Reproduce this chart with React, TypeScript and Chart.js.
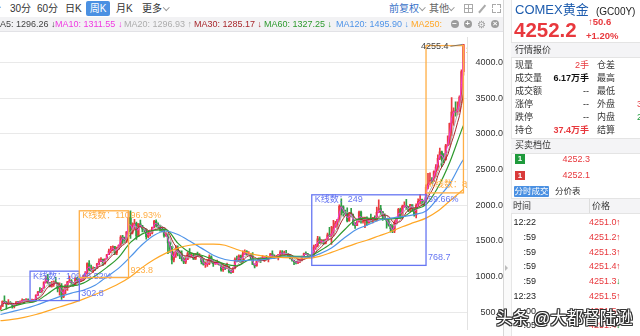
import React, { useEffect, useRef } from "react";
import { Chart, registerables } from "chart.js";
Chart.register(...registerables);

// ---------- DATA (monthly candles, Mar 2006 .. Oct 2025) ----------
const firstOpen = 556;
const closes = [
  584, 654, 643, 614, 634, 624, 599, 604, 648, 635,
  652, 666, 663, 679, 657, 650, 665, 673, 743, 789, 783, 834,
  923, 972, 916, 864, 887, 928, 912, 833, 871, 716, 815, 884,
  928, 942, 916, 883, 979, 927, 955, 955, 1008, 1040, 1182, 1097,
  1081, 1118, 1115, 1180, 1213, 1245, 1181, 1248, 1308, 1359, 1386, 1421,
  1333, 1411, 1439, 1556, 1536, 1502, 1628, 1829, 1620, 1725, 1746, 1566,
  1740, 1711, 1669, 1664, 1561, 1604, 1614, 1692, 1776, 1720, 1713, 1675,
  1663, 1578, 1595, 1472, 1393, 1234, 1312, 1395, 1327, 1323, 1250, 1202,
  1240, 1322, 1284, 1296, 1246, 1322, 1282, 1287, 1210, 1171, 1175, 1184,
  1278, 1213, 1183, 1183, 1190, 1172, 1095, 1132, 1115, 1142, 1065, 1061,
  1118, 1238, 1235, 1293, 1213, 1320, 1350, 1311, 1317, 1277, 1173, 1152,
  1211, 1253, 1249, 1268, 1269, 1242, 1269, 1321, 1281, 1271, 1275, 1309,
  1345, 1318, 1327, 1316, 1305, 1253, 1233, 1206, 1196, 1215, 1226, 1283,
  1325, 1316, 1298, 1285, 1306, 1413, 1437, 1529, 1472, 1514, 1465, 1523,
  1587, 1567, 1596, 1694, 1751, 1801, 1986, 1978, 1895, 1879, 1780, 1895,
  1850, 1729, 1716, 1768, 1906, 1771, 1817, 1818, 1757, 1784, 1776, 1829,
  1796, 1900, 1954, 1912, 1849, 1807, 1782, 1726, 1672, 1640, 1759, 1826,
  1945, 1836, 1986, 1999, 1982, 1929, 2009, 1966, 1866, 2000, 2057, 2072,
  2067, 2054, 2254, 2302, 2346, 2339, 2473, 2536, 2659, 2749, 2657, 2641,
  2835, 2848, 3150, 3305, 3313, 3307, 3348, 3516, 3873, 4252,
];
const highs = [
  588, 660, 732, 650, 678, 650, 628, 610, 652, 652,
  662, 690, 671, 694, 690, 665, 684, 676, 745, 794, 848, 838,
  929, 1006, 1034, 917, 935, 941, 990, 915, 912, 904, 829, 886,
  935, 1007, 960, 918, 982, 990, 958, 967, 1021, 1070, 1195, 1227,
  1162, 1139, 1126, 1185, 1249, 1266, 1211, 1250, 1310, 1388, 1424, 1432,
  1424, 1414, 1447, 1577, 1578, 1556, 1631, 1912, 1921, 1753, 1804, 1764,
  1745, 1792, 1718, 1676, 1669, 1641, 1631, 1695, 1791, 1798, 1755, 1723,
  1696, 1681, 1616, 1596, 1487, 1424, 1347, 1434, 1433, 1361, 1361, 1267,
  1280, 1345, 1392, 1331, 1315, 1325, 1345, 1323, 1287, 1256, 1208, 1239,
  1307, 1292, 1224, 1224, 1232, 1205, 1175, 1169, 1157, 1191, 1141, 1088,
  1128, 1264, 1287, 1306, 1304, 1362, 1377, 1365, 1352, 1319, 1339, 1180,
  1221, 1264, 1261, 1297, 1276, 1297, 1273, 1326, 1362, 1306, 1299, 1311,
  1366, 1365, 1357, 1369, 1326, 1309, 1266, 1222, 1214, 1247, 1238, 1288,
  1331, 1349, 1326, 1310, 1311, 1443, 1453, 1566, 1557, 1519, 1516, 1526,
  1611, 1691, 1704, 1788, 1775, 1802, 2005, 2089, 1993, 1933, 1966, 1900,
  1959, 1877, 1757, 1798, 1919, 1919, 1836, 1834, 1837, 1814, 1877, 1831,
  1853, 1976, 2078, 1998, 1909, 1879, 1790, 1808, 1735, 1729, 1786, 1836,
  1959, 1960, 2003, 2049, 2085, 1983, 2012, 1988, 1953, 2019, 2089, 2152,
  2088, 2066, 2286, 2448, 2454, 2388, 2483, 2570, 2708, 2801, 2761, 2726,
  2853, 2975, 3153, 3509, 3365, 3451, 3451, 3534, 3897, 4255.4,
];
const lows = [
  536, 582, 635, 543, 608, 610, 560, 563, 603, 608,
  606, 646, 636, 660, 652, 641, 647, 651, 671, 732, 775, 782,
  845, 907, 905, 856, 851, 863, 900, 786, 742, 681, 706, 760,
  807, 918, 880, 866, 885, 908, 906, 931, 947, 992, 1038, 1079,
  1073, 1058, 1088, 1114, 1164, 1209, 1157, 1176, 1246, 1315, 1331, 1359,
  1309, 1308, 1383, 1422, 1462, 1478, 1480, 1604, 1535, 1600, 1667, 1523,
  1563, 1692, 1628, 1627, 1527, 1547, 1572, 1598, 1684, 1697, 1678, 1637,
  1626, 1555, 1564, 1321, 1339, 1180, 1207, 1270, 1291, 1251, 1221, 1181,
  1182, 1238, 1277, 1268, 1240, 1240, 1279, 1274, 1180, 1160, 1130, 1142,
  1167, 1191, 1142, 1170, 1171, 1162, 1077, 1072, 1098, 1136, 1052, 1045,
  1060, 1110, 1208, 1209, 1200, 1210, 1311, 1301, 1304, 1241, 1172, 1124,
  1146, 1208, 1196, 1244, 1215, 1236, 1205, 1260, 1274, 1260, 1263, 1236,
  1307, 1306, 1303, 1312, 1286, 1250, 1218, 1167, 1180, 1182, 1196, 1221,
  1276, 1311, 1280, 1268, 1272, 1281, 1383, 1418, 1465, 1458, 1450, 1459,
  1518, 1563, 1451, 1568, 1693, 1674, 1772, 1863, 1849, 1860, 1767, 1776,
  1838, 1717, 1677, 1721, 1768, 1750, 1750, 1688, 1721, 1746, 1762, 1753,
  1781, 1781, 1895, 1872, 1787, 1803, 1681, 1709, 1622, 1618, 1616, 1770,
  1824, 1811, 1810, 1969, 1941, 1911, 1903, 1913, 1847, 1823, 1984, 2017,
  2002, 1996, 2044, 2228, 2286, 2304, 2334, 2401, 2488, 2641, 2541, 2596,
  2633, 2833, 2855, 2970, 3120, 3249, 3268, 3314, 3436, 3825,
];

// Long moving averages (one reading every 6 candles + last)
const maIndex = [
  0, 6, 12, 18, 24, 30, 36, 42, 48, 54, 60, 66, 72, 78, 84, 90, 96, 102, 108, 114,
  120, 126, 132, 138, 144, 150, 156, 162, 168, 174, 180, 186, 192, 198, 204, 210,
  216, 222, 228, 234, 235,
];
const ma60 = [
  520, 580, 625, 655, 760, 860, 870, 910, 1010, 1130, 1270, 1480, 1600, 1650, 1660, 1470, 1340, 1300, 1240, 1175,
  1150, 1235, 1250, 1260, 1290, 1285, 1280, 1360, 1470, 1640, 1790, 1820, 1810, 1810, 1830, 1940,
  2010, 2250, 2600, 3050, 3120,
];
const ma120 = [
  470, 510, 550, 600, 660, 720, 770, 810, 880, 1000, 1120, 1280, 1450, 1580, 1640, 1590, 1500, 1400, 1300, 1240,
  1220, 1230, 1235, 1255, 1275, 1275, 1275, 1320, 1400, 1530, 1650, 1720, 1790, 1820, 1840, 1870,
  1920, 2100, 2300, 2600, 2640,
];
const ma250 = [
  383, 400, 430, 470, 520, 575, 625, 685, 750, 820, 900, 1000, 1130, 1240, 1330, 1400, 1440, 1457, 1457, 1440,
  1380, 1330, 1295, 1275, 1268, 1262, 1258, 1285, 1340, 1400, 1460, 1510, 1570, 1630, 1700, 1760,
  1820, 1920, 2060, 2200, 2225,
];

const yTickValues = [500, 1000, 1500, 2000, 2500, 3000, 3500, 4000];

// range boxes (candle index span, price span, annotations)
const rangeStart = [15, 40, 158, 216];
const rangeEnd = [40, 65, 216, 235];
const rangeHigh = [1077, 1923, 2147, 4238];
const rangeLow = [665, 987, 1158, 2174];
const rangeBars = [109, 110, 249, 87];
const rangePct = ["46.52%", "96.93%", "59.66%", "106.87%"];
const rangeDiff = ["302.8", "923.8", "768.7", "2198.4"];

const legendNames = ["MA5", "MA10", "MA20", "MA30", "MA60", "MA120", "MA250"];
const legendValues = ["1296.26", "1311.55", "1296.93", "1285.17", "1327.25", "1495.90", ""];
const legendDir = ["↓", "↓", "↑", "↓", "↓", "↓", ""];

const quoteLabels = ["现量", "成交量", "成交额", "涨停", "跌停", "持仓"];
const quoteValues = ["2手", "6.17万手", "--", "--", "--", "37.4万手"];
const quoteLabels2 = ["仓差", "最高", "最低", "外盘", "内盘", "结算"];
const quoteValues2 = ["", "", "", "3.1万", "2.9万", ""];

const tradeTimes = ["12:22", ":59", ":59", ":59", ":59", "12:23", ":00", ":05"];
const tradePrices = ["4251.0", "4251.2", "4251.3", "4251.4", "4251.3", "4251.5", "4251.5", "4251.4"];
const tradeUp = [true, true, true, true, false, true, true, false];

// ---------- STYLE ----------
const FONT = '"Liberation Sans", "Noto Sans CJK SC", sans-serif';
const RED = "#e8383d";
const GREEN = "#1f9a3c";
const UP = "#ea3b40";
const DOWN = "#2f9e44";
const legendColors = ["#444444", "#f03ae2", "#adadad", "#a8282d", "#2e9a2e", "#4f94e8", "#ffa726"];
const BOX_BLUE = "#6676f2";
const BOX_ORANGE = "#ffae45";

function sma(src: number[], n: number) {
  return src.map((_, i) => {
    const s = src.slice(Math.max(0, i - n + 1), i + 1);
    return s.reduce((a, b) => a + b, 0) / s.length;
  });
}

const rangePlugin = {
  id: "ranges",
  afterDatasetsDraw(chart: any) {
    const { ctx, chartArea: a, scales } = chart;
    const x = scales.x;
    const y = scales.y;
    ctx.save();
    ctx.beginPath();
    ctx.rect(a.left, a.top, a.right - a.left, a.bottom - a.top);
    ctx.clip();
    ctx.font = `9px ${FONT}`;
    ctx.textBaseline = "middle";
    rangeStart.forEach((s, k) => {
      const col = k % 2 === 0 ? BOX_BLUE : BOX_ORANGE;
      const x0 = x.getPixelForValue(s);
      const x1 = x.getPixelForValue(rangeEnd[k]);
      const y0 = y.getPixelForValue(rangeHigh[k]);
      const y1 = y.getPixelForValue(rangeLow[k]);
      ctx.strokeStyle = col;
      ctx.lineWidth = 1.3;
      ctx.strokeRect(x0, y0, x1 - x0, y1 - y0);
      ctx.fillStyle = col;
      ctx.textAlign = "left";
      const countY = y0 - a.top < 20 ? y1 - 8 : y0 + 5;
      ctx.fillText(`K线数：${rangeBars[k]}`, x0 + 3, countY);
      ctx.fillText(rangePct[k], x1 + 2, y0 + 5);
      ctx.fillText(rangeDiff[k], x1 + 2, y1 - 7.5);
    });
    let mi = 0;
    highs.forEach((h, i) => {
      if (h > highs[mi]) mi = i;
    });
    const px = x.getPixelForValue(mi);
    const py = y.getPixelForValue(highs[mi]);
    ctx.fillStyle = "#444";
    ctx.textAlign = "right";
    ctx.fillText(highs[mi].toFixed(1), px - 15, py + 2);
    ctx.strokeStyle = "#666";
    ctx.lineWidth = 0.8;
    ctx.beginPath();
    ctx.moveTo(px - 13, py + 2);
    ctx.lineTo(px - 1, py);
    ctx.stroke();
    ctx.restore();
  },
};

function GoldChart() {
  const ref = useRef<HTMLCanvasElement>(null);
  useEffect(() => {
    const c = ref.current!;
    const n = closes.length;
    const opens = [firstOpen, ...closes.slice(0, n - 1)];
    const wickData = closes.map((_, i) => ({ x: i, y: [lows[i], highs[i]] }));
    const bodyData = closes.map((cl, i) => ({ x: i, y: [opens[i], cl] }));
    const colors = closes.map((cl, i) => (cl >= opens[i] ? UP : DOWN));
    const line = (data: any[], color: string, width = 1, smooth = false) => ({
      type: "line" as const,
      data,
      borderColor: color,
      borderWidth: width,
      pointRadius: 0,
      fill: false,
      order: 0,
      cubicInterpolationMode: smooth ? ("monotone" as const) : ("default" as const),
      tension: 0,
    });
    const toXY = (arr: number[]) => arr.map((v, i) => ({ x: i, y: v }));
    const sparse = (arr: number[]) => arr.map((v, k) => ({ x: maIndex[k], y: v }));
    const chart = new Chart(c, {
      type: "bar",
      data: {
        datasets: [
          line(sparse(ma250), legendColors[6], 1.2, true),
          line(sparse(ma120), legendColors[5], 1.2, true),
          line(sparse(ma60), legendColors[4], 1.2, true),
          line(toXY(sma(closes, 7)), legendColors[3], 1),
          line(toXY(sma(closes, 5)), legendColors[2], 1),
          line(toXY(sma(closes, 2)), legendColors[1], 1),
          {
            type: "bar",
            data: bodyData as any,
            backgroundColor: colors,
            barThickness: 1.6,
            grouped: false,
            minBarLength: 1,
            borderWidth: 0,
            order: 1,
          } as any,
          {
            type: "bar",
            data: wickData as any,
            backgroundColor: colors,
            barThickness: 1,
            grouped: false,
            borderWidth: 0,
            order: 2,
          } as any,
        ],
      },
      options: {
        animation: false,
        responsive: false,
        maintainAspectRatio: false,
        layout: { padding: 0 },
        events: [],
        plugins: { legend: { display: false }, tooltip: { enabled: false } },
        scales: {
          x: { type: "linear", min: -0.254, max: 236.8, display: false, offset: false },
          y: {
            position: "right",
            min: 258,
            max: 4353,
            afterFit: (s: any) => {
              s.width = 36;
            },
            afterBuildTicks: (s: any) => {
              s.ticks = yTickValues.map((v) => ({ value: v }));
            },
            ticks: {
              callback: (v: any) => Number(v).toFixed(1),
              padding: 1,
              crossAlign: "far",
              color: "#333",
              font: { size: 9, family: FONT },
            },
            grid: { color: "#e9e9e9", drawTicks: false },
            border: { display: true, color: "#e2e2e2" },
          },
        },
      } as any,
      plugins: [rangePlugin],
    });
    return () => chart.destroy();
  }, []);
  return (
    <canvas
      ref={ref}
      width={503}
      height={305}
      style={{ position: "absolute", left: 0, top: 31, width: 503, height: 305 }}
    />
  );
}

function Txt(props: {
  x: number;
  y: number;
  size?: number;
  color?: string;
  bold?: boolean;
  right?: boolean;
  children: any;
  extra?: any;
}) {
  const size = props.size ?? 9;
  const lh = Math.round(size * 1.5);
  const st: any = {
    position: "absolute",
    top: props.y - lh / 2,
    height: lh,
    lineHeight: lh + "px",
    fontSize: size,
    color: props.color ?? "#333",
    fontWeight: props.bold ? 700 : 400,
    whiteSpace: "nowrap",
    ...(props.extra || {}),
  };
  if (props.right) st.right = 640 - props.x;
  else st.left = props.x;
  return <span style={st}>{props.children}</span>;
}

function Chev({ x, y, color = "#999" }: { x: number; y: number; color?: string }) {
  return (
    <span
      style={{
        position: "absolute",
        left: x,
        top: y - 3.5,
        width: 3.5,
        height: 3.5,
        borderRight: `1px solid ${color}`,
        borderBottom: `1px solid ${color}`,
        transform: "rotate(45deg)",
      }}
    />
  );
}

function Circle({ cx, cy, ch }: { cx: number; cy: number; ch: string }) {
  return (
    <span
      style={{
        position: "absolute",
        left: cx - 4,
        top: cy - 4,
        width: 8,
        height: 8,
        borderRadius: "50%",
        background: "#9c9c9c",
        color: "#fff",
        fontSize: 8,
        lineHeight: "8px",
        textAlign: "center",
        fontWeight: 700,
      }}
    >
      {ch}
    </span>
  );
}

function Toolbar() {
  const items = [
    { t: "分", x: -9 },
    { t: "30分", x: 10 },
    { t: "60分", x: 37 },
    { t: "日K", x: 65 },
    { t: "月K", x: 116 },
    { t: "更多", x: 142 },
  ];
  const legendX = [-7.5, 55, 124, 194, 264, 336, 411];
  return (
    <>
      {items.map((it, i) => (
        <Txt key={i} x={it.x} y={8.5} size={10} color="#333">
          {it.t}
        </Txt>
      ))}
      <span
        style={{
          position: "absolute",
          left: 86,
          top: 1,
          width: 24,
          height: 15,
          background: "#4a90e2",
          borderRadius: 2,
          color: "#fff",
          fontSize: 10,
          lineHeight: "15px",
          textAlign: "center",
        }}
      >
        周K
      </span>
      <Chev x={164} y={8} />
      <Txt x={389} y={8.5} size={10} color="#3a72c8">
        前复权
      </Txt>
      <Chev x={420} y={8} />
      <Txt x={429} y={8.5} size={10} color="#666">
        其他
      </Txt>
      <Chev x={449} y={8} />
      {/* grid icon */}
      <span style={{ position: "absolute", left: 464, top: 4, width: 7, height: 7, border: "1px solid #aaa" }}>
        <span style={{ position: "absolute", left: 3, top: 0, width: 1, height: 7, background: "#aaa" }} />
        <span style={{ position: "absolute", left: 0, top: 3, width: 7, height: 1, background: "#aaa" }} />
      </span>
      {/* pencil */}
      <span
        style={{
          position: "absolute",
          left: 477,
          top: 8,
          width: 10,
          height: 1.5,
          background: "#aaa",
          transform: "rotate(-50deg)",
        }}
      />
      {/* expand */}
      {[
        [492, 4, "borderLeft", "borderTop"],
        [497, 4, "borderRight", "borderTop"],
        [492, 9, "borderLeft", "borderBottom"],
        [497, 9, "borderRight", "borderBottom"],
      ].map((d: any, i) => (
        <span
          key={i}
          style={{
            position: "absolute",
            left: d[0],
            top: d[1],
            width: 2.5,
            height: 2.5,
            [d[2]]: "1px solid #aaa",
            [d[3]]: "1px solid #aaa",
          }}
        />
      ))}
      {/* legend row */}
      <div
        style={{
          position: "absolute",
          left: 0,
          top: 17,
          width: 503,
          height: 14,
          background: "#f2f2f4",
          borderBottom: "1px solid #e2e2e6",
        }}
      />
      {legendNames.map((nm, i) => (
        <Txt key={nm} x={legendX[i]} y={24.3} size={9} color={legendColors[i]}>
          {`${nm}: ${legendValues[i]}${legendDir[i] ? " " + legendDir[i] : ""}`}
        </Txt>
      ))}
      <Circle cx={454.5} cy={24.3} ch="−" />
      <Circle cx={467.5} cy={24.3} ch="+" />
      <Txt x={477} y={24} size={10} color="#9c9c9c">
        ⚙
      </Txt>
      <Circle cx={495} cy={24.3} ch="×" />
    </>
  );
}

function SidePanel() {
  const rowY = [64.5, 77.5, 90.5, 103.5, 116.5, 129.5];
  const listY = [222.3, 237, 251.7, 266.4, 281.1, 295.8, 310.5, 325.2];
  const hdr = (top: number, h: number) => (
    <div
      style={{
        position: "absolute",
        left: 511,
        top,
        width: 129,
        height: h,
        background: "#f4f4f6",
        borderTop: "1px solid #e4e4e4",
        borderBottom: "1px solid #e4e4e4",
      }}
    />
  );
  return (
    <>
      <div style={{ position: "absolute", left: 503, top: 0, width: 7, height: 336, background: "#fafafa", borderLeft: "1px solid #d8d8d8", borderRight: "1px solid #e6e6e6" }} />
      <span style={{ position: "absolute", left: 505, top: 265, width: 0, height: 0, borderTop: "3px solid transparent", borderBottom: "3px solid transparent", borderLeft: "3px solid #bbb" }} />
      <Txt x={515} y={10} size={13} color="#1d5cae">
        COMEX黄金
      </Txt>
      <Txt x={596} y={11} size={10} color="#222">
        (GC00Y)
      </Txt>
      <Txt x={514} y={29} size={20.5} color={RED} bold>
        4252.2
      </Txt>
      <Txt x={588} y={21.5} size={9.5} color={RED} bold>
        ↑50.6
      </Txt>
      <Txt x={586} y={35.5} size={9.5} color={RED} bold>
        +1.20%
      </Txt>
      {hdr(42, 14)}
      <Txt x={515} y={50} size={9} color="#333">
        行情报价
      </Txt>
      {quoteLabels.map((l, i) => (
        <React.Fragment key={l}>
          <Txt x={515} y={rowY[i]} size={9} color="#333">
            {l}
          </Txt>
          <Txt
            x={589}
            y={rowY[i]}
            size={9}
            right
            bold={i === 1 || i === 5}
            color={i === 0 || i === 5 ? RED : "#111"}
          >
            {quoteValues[i]}
          </Txt>
          <Txt x={597} y={rowY[i]} size={9} color="#333">
            {quoteLabels2[i]}
          </Txt>
          <Txt x={637} y={rowY[i]} size={9} color={i === 3 ? RED : GREEN}>
            {quoteValues2[i]}
          </Txt>
        </React.Fragment>
      ))}
      {hdr(137.5, 14)}
      <Txt x={515} y={145} size={9} color="#333">
        买卖档位
      </Txt>
      {[
        [154, GREEN, "4252.3"],
        [170.5, "#d93a3a", "4252.1"],
      ].map((b: any, i) => (
        <React.Fragment key={i}>
          <span
            style={{
              position: "absolute",
              left: 515,
              top: b[0],
              width: 10,
              height: 9.5,
              background: b[1],
              color: "#fff",
              fontSize: 8,
              lineHeight: "9.5px",
              textAlign: "center",
              fontWeight: 700,
            }}
          >
            1
          </span>
          <Txt x={590} y={b[0] + 4.7} size={9} color={RED} right>
            {b[2]}
          </Txt>
        </React.Fragment>
      ))}
      <span
        style={{
          position: "absolute",
          left: 514,
          top: 186,
          width: 35,
          height: 10.5,
          background: "#4a90e2",
          color: "#fff",
          fontSize: 8.5,
          lineHeight: "10.5px",
          textAlign: "center",
          borderRadius: 1,
        }}
      >
        分时成交
      </span>
      <Txt x={555} y={191.3} size={8.5} color="#333">
        分价表
      </Txt>
      {hdr(198, 14)}
      <span style={{ position: "absolute", left: 589, top: 199, width: 1, height: 14, background: "#dddddd" }} />
      <Txt x={513} y={206} size={9} color="#333">
        时间
      </Txt>
      <Txt x={592} y={206} size={9} color="#333">
        价格
      </Txt>
      {tradeTimes.map((t, i) => (
        <React.Fragment key={i}>
          <Txt x={536} y={listY[i]} size={9} color="#222" right>
            {t}
          </Txt>
          <Txt x={589} y={listY[i]} size={9} color={RED}>
            {tradePrices[i]}
          </Txt>
          <Txt x={616} y={listY[i]} size={9} bold color={tradeUp[i] ? RED : GREEN}>
            {tradeUp[i] ? "↑" : "↓"}
          </Txt>
        </React.Fragment>
      ))}
    </>
  );
}

export default function App() {
  const outline =
    "1px 1px 0 #333, -1px -1px 0 #333, 1px -1px 0 #333, -1px 1px 0 #333, 0 1px 0 #333, 1px 0 0 #333, 0 -1px 0 #333, -1px 0 0 #333";
  return (
    <div
      style={{
        position: "fixed",
        left: 0,
        top: 0,
        width: 640,
        height: 336,
        overflow: "hidden",
        background: "#fff",
        fontFamily: FONT,
      }}
    >
      <GoldChart />
      <Toolbar />
      <SidePanel />
      <Txt x={496} y={318} size={16.5} color="#fff" extra={{ textShadow: outline, zIndex: 5 }}>
        头条 @大都督陆逊
      </Txt>
    </div>
  );
}
